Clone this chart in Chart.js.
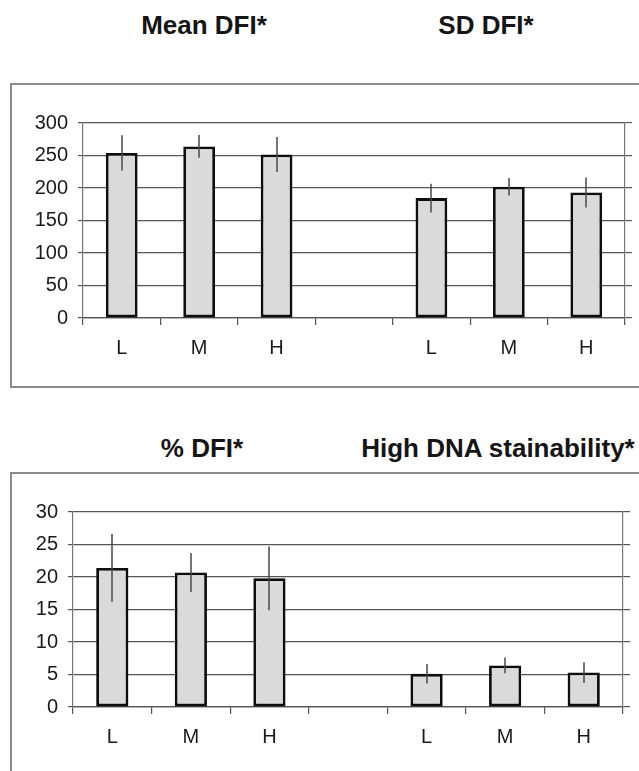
<!DOCTYPE html>
<html>
<head>
<meta charset="utf-8">
<script src="https://cdn.jsdelivr.net/npm/chart.js@4/dist/chart.umd.min.js"></script>
<style>
  body { margin: 0; background: #fff; width: 639px; height: 771px; overflow: hidden; position: relative; font-family: "Liberation Sans", Arial, sans-serif; }
  .title { position: absolute; width: 320px; text-align: center; font-weight: bold; font-size: 26px; line-height: 26px; color: #151515; white-space: nowrap; }
  .box { position: absolute; left: 10px; width: 640px; border: 2px solid #8a8a8a; }
  .wrap { position: absolute; left: 0; width: 639px; }
</style>
</head>
<body>
<div class="title" style="left:44px; top:12px;">Mean DFI*</div>
<div class="title" style="left:326px; top:12px;">SD DFI*</div>
<div class="box" style="top:83px; height:301px;"></div>
<div class="wrap" style="top:84px; height:303px;"><canvas id="topChart"></canvas></div>

<div class="title" style="left:42px; top:435px;">% DFI*</div>
<div class="title" style="left:338px; top:435px;">High DNA stainability*</div>
<div class="box" style="top:472px; height:320px;"></div>
<div class="wrap" style="top:473px; height:298px;"><canvas id="bottomChart"></canvas></div>

<script>
const categories = ['L', 'M', 'H', '', 'L', 'M', 'H'];

const meanDfi = [254, 264, 251.5];
const meanDfiErr = [27, 17.5, 27];
const sdDfi = [184.5, 202, 193];
const sdDfiErr = [22, 13.5, 23];

const pctDfi = [21.4, 20.7, 19.8];
const pctDfiErr = [5.2, 3.0, 4.9];
const highStain = [5.1, 6.4, 5.3];
const highStainErr = [1.5, 1.2, 1.6];

const FONT = '"Liberation Sans", Arial, sans-serif';
Chart.defaults.font.family = FONT;

const errorBars = {
    id: 'errorBars',
    afterDatasetsDraw(chart) {
        const ctx = chart.ctx;
        const y = chart.scales.y;
        const ds = chart.data.datasets[0];
        const meta = chart.getDatasetMeta(0);
        ctx.save();
        ctx.strokeStyle = '#484848';
        ctx.lineWidth = 1.5;
        meta.data.forEach((bar, i) => {
            const v = ds.data[i];
            if (v === null) return;
            const x = Math.round(bar.x);
            ctx.beginPath();
            ctx.moveTo(x, y.getPixelForValue(v + ds.errors[i]));
            ctx.lineTo(x, y.getPixelForValue(v - ds.errors[i]));
            ctx.stroke();
        });
        ctx.restore();
    }
};

function makePanel(id, left, leftErr, right, rightErr, max, step, yWidth, y2Width, xHeight) {
    const ctx = document.getElementById(id).getContext('2d');
    new Chart(ctx, {
        type: 'bar',
        data: {
            labels: categories,
            datasets: [{
                data: [...left, null, ...right],
                errors: [...leftErr, 0, ...rightErr],
                backgroundColor: '#dadada',
                borderColor: '#0d0d0d',
                borderWidth: 2.8,
                borderSkipped: false,
                categoryPercentage: 1,
                barPercentage: 0.41
            }]
        },
        options: {
            responsive: true,
            maintainAspectRatio: false,
            animation: false,
            layout: { padding: { top: 39, left: 0, right: 0, bottom: 0 } },
            plugins: {
                legend: { display: false },
                tooltip: { enabled: false }
            },
            scales: {
                x: {
                    grid: {
                        offset: true,
                        drawOnChartArea: false,
                        tickLength: 7,
                        color: '#555',
                        lineWidth: 1.2
                    },
                    border: { color: '#555', width: 1.2 },
                    ticks: { color: '#1a1a1a', font: { size: 20 }, padding: 11 },
                    afterFit: s => { s.height = xHeight; }
                },
                y: {
                    min: 0,
                    max: max,
                    grid: { color: '#555', lineWidth: 1.2, tickLength: 5 },
                    border: { color: '#777', width: 1.2 },
                    ticks: { stepSize: step, color: '#1a1a1a', font: { size: 20 }, padding: 10 },
                    afterFit: s => { s.width = yWidth; }
                },
                y2: {
                    position: 'right',
                    min: 0,
                    max: max,
                    grid: { drawOnChartArea: false, color: '#555', lineWidth: 1.2, tickLength: 7 },
                    border: { color: '#777', width: 1.2 },
                    ticks: { stepSize: step, display: false },
                    afterFit: s => { s.width = y2Width; }
                }
            }
        },
        plugins: [errorBars]
    });
}

makePanel('topChart', meanDfi, meanDfiErr, sdDfi, sdDfiErr, 300, 50, 83, 14, 69);
makePanel('bottomChart', pctDfi, pctDfiErr, highStain, highStainErr, 30, 5, 73, 16, 64);
</script>
</body>
</html>
